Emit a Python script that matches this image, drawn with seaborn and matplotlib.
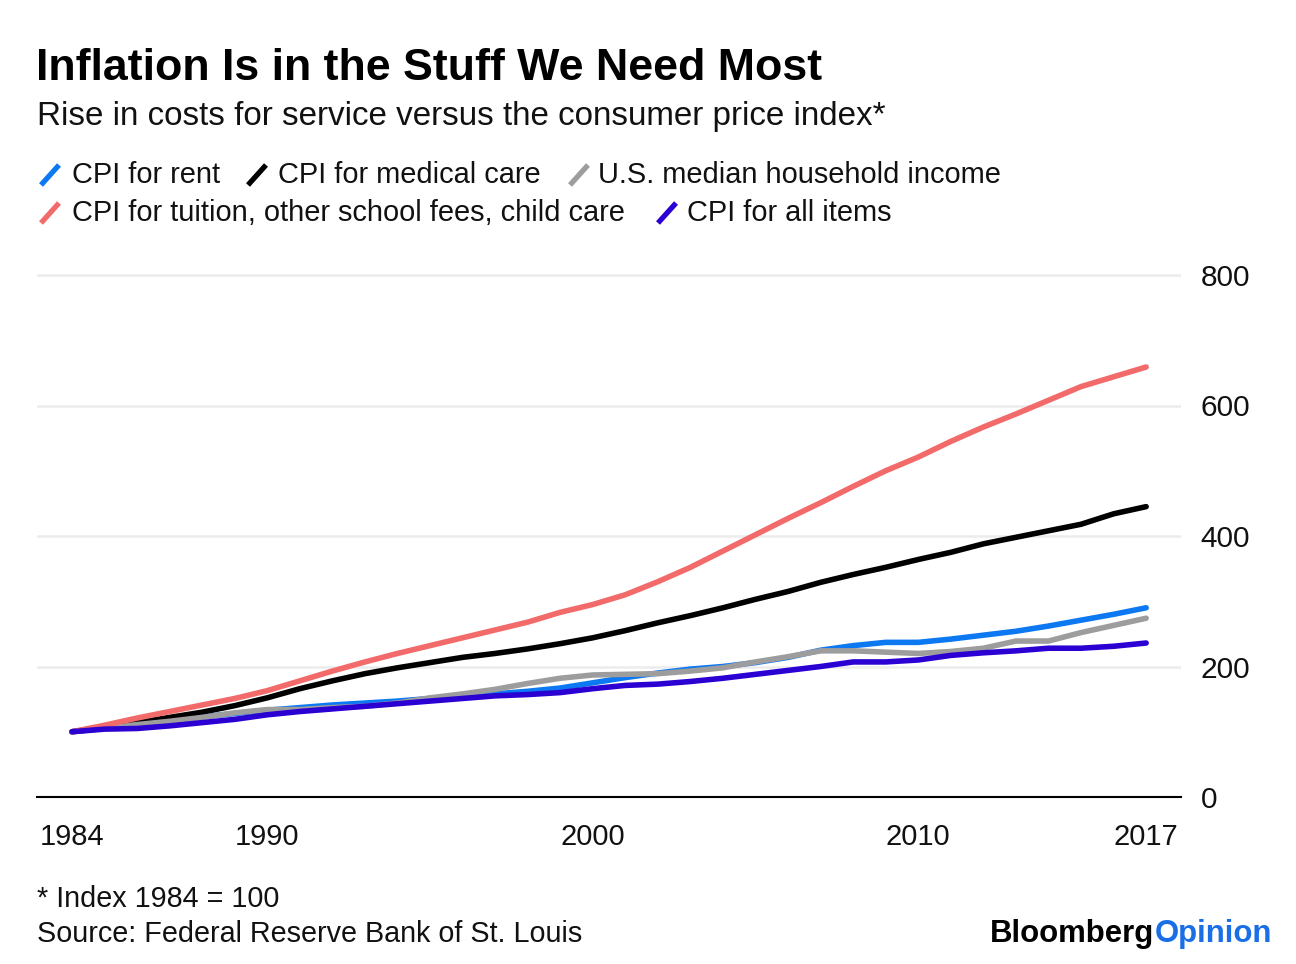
import numpy as np
import pandas as pd
import matplotlib
matplotlib.use("Agg")
import matplotlib.pyplot as plt
from matplotlib.lines import Line2D
import seaborn as sns

years = list(range(1984, 2018))

rent = [100, 107, 113, 118, 123, 128, 133, 137, 141, 144, 147, 151, 155, 158, 162, 167,
        175, 183, 190, 196, 200, 206, 214, 225, 232, 237, 237, 242, 248, 254, 262, 271, 280, 290]
medical = [100, 106, 114, 122, 130, 140, 152, 166, 178, 189, 198, 206, 214, 220, 227, 235,
           244, 255, 267, 278, 290, 303, 315, 329, 341, 352, 364, 375, 388, 398, 408, 418, 434, 445]
income = [100, 105, 111, 116, 122, 129, 134, 134, 137, 139, 144, 152, 158, 165, 174, 182,
          187, 188, 189, 193, 198, 207, 215, 224, 224, 222, 220, 223, 228, 239, 239, 252, 263, 274]
tuition = [100, 110, 121, 131, 141, 151, 163, 178, 193, 207, 220, 232, 244, 256, 268, 283,
           295, 310, 330, 352, 377, 402, 427, 451, 476, 500, 521, 545, 567, 587, 608, 629, 644, 659]
all_items = [100, 104, 105, 109, 114, 119, 126, 131, 135, 139, 143, 147, 151, 155, 157, 160,
             166, 171, 173, 177, 182, 188, 194, 200, 207, 207, 210, 217, 221, 224, 228, 228, 231, 236]

series_names = ["CPI for rent", "CPI for medical care", "U.S. median household income",
                "CPI for tuition, other school fees, child care", "CPI for all items"]
series_vals = [rent, medical, income, tuition, all_items]
colors = ["#0c78f2", "#000000", "#9d9d9d", "#f26a6a", "#2b00d2"]

x_ticks = [1984, 1990, 2000, 2010, 2017]
y_ticks = [0, 200, 400, 600, 800]

df = pd.concat([pd.DataFrame({"year": years, "value": v, "series": n})
                for n, v in zip(series_names, series_vals)], ignore_index=True)

sns.set_style("white")
plt.rcParams["font.family"] = ["Liberation Sans", "DejaVu Sans"]

W, H = 1296, 964
fig = plt.figure(figsize=(W / 100, H / 100), dpi=100)

def fx(px):
    return px / W

def fy(py):
    return 1 - py / H

ymax = 812
top_px = 797 - ymax * 0.6525
ax = fig.add_axes([fx(37), fy(797), fx(1181) - fx(37), fy(top_px) - fy(797)])

sns.lineplot(data=df, x="year", y="value", hue="series", hue_order=series_names,
             palette=colors, linewidth=4.0, ax=ax, legend=False, sort=False)
for ln in ax.lines:
    ln.set_solid_capstyle("round")
    ln.set_solid_joinstyle("round")

ax.set_xlim(1984 - 35 / 32.55, 1984 + 1109 / 32.55)
ax.set_ylim(0, ymax)
ax.set_xticks(x_ticks)
ax.set_xticklabels([str(t) for t in x_ticks])
ax.set_yticks(y_ticks)
ax.set_yticklabels([str(t) for t in y_ticks])
ax.yaxis.tick_right()
ax.tick_params(axis="y", length=0, pad=14, labelsize=21.5, colors="#111111")
ax.tick_params(axis="x", length=8, width=1.5, direction="out", pad=11, labelsize=21,
               colors="black", labelcolor="#111111")
for t in ax.get_yticklabels():
    t.set_horizontalalignment("left")
ax.set_xlabel("")
ax.set_ylabel("")
for s in ["top", "right", "left"]:
    ax.spines[s].set_visible(False)
ax.spines["bottom"].set_color("black")
ax.spines["bottom"].set_linewidth(1.5)
ax.set_axisbelow(True)
ax.grid(axis="y", color="#ececec", linewidth=1.8)
ax.grid(axis="x", visible=False)
ax.yaxis.get_gridlines()[0].set_visible(False)

# Titles
fig.text(fx(36), fy(80), "Inflation Is in the Stuff We Need Most", fontsize=32.2,
         fontweight="bold", color="black", ha="left", va="baseline")
fig.text(fx(37), fy(125), "Rise in costs for service versus the consumer price index*",
         fontsize=23.9, color="#111111", ha="left", va="baseline")

# Legend
leg_items = [
    (0, 38, 72), (1, 245, 278), (2, 567, 598),
    (3, 38, 72), (4, 655, 687),
]
row_y = [175, 213]
for k, (i, mx, tx) in enumerate(leg_items):
    yc = row_y[0] if k < 3 else row_y[1]
    fig.add_artist(Line2D([fx(mx + 3), fx(mx + 21)], [fy(yc + 10), fy(yc - 10)],
                          color=colors[i], linewidth=3.8, solid_capstyle="butt",
                          transform=fig.transFigure))
    fig.text(fx(tx), fy(yc), series_names[i], fontsize=20.9, color="#111111",
             ha="left", va="center")

# Footer
fig.text(fx(37), fy(907), "* Index 1984 = 100", fontsize=20.7, color="#111111",
         ha="left", va="baseline")
fig.text(fx(37), fy(942), "Source: Federal Reserve Bank of St. Louis", fontsize=20.7,
         color="#111111", ha="left", va="baseline")
t1 = fig.text(fx(990), fy(942), "Bloomberg", fontsize=22.4, fontweight="bold",
              color="black", ha="left", va="baseline")
fig.canvas.draw()
bb = t1.get_window_extent()
fig.text(bb.x1 / W, fy(942), "Opinion", fontsize=22.4, fontweight="bold",
         color="#1a6fe6", ha="left", va="baseline")

fig.savefig("out.png", dpi=100, facecolor="white")
